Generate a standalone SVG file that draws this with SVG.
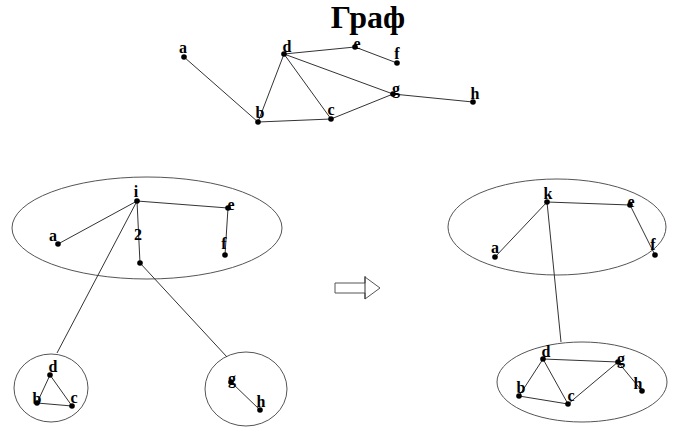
<svg xmlns="http://www.w3.org/2000/svg" width="685" height="428" viewBox="0 0 685 428">
<style>
.e{stroke:#333;stroke-width:1;fill:none}
.o{stroke:#555;stroke-width:1;fill:none}
.n{fill:#000}
.l{font-family:"Liberation Serif",serif;font-weight:bold;font-size:16px;fill:#000;text-anchor:middle}
.t{font-family:"Liberation Serif",serif;font-weight:bold;font-size:32px;fill:#000;text-anchor:middle}
</style>
<rect width="685" height="428" fill="#fff"/>
<text class="t" x="368" y="28">Граф</text>
<g id="containers">
<ellipse class="o" cx="147" cy="228" rx="135" ry="51"/>
<ellipse class="o" cx="51" cy="388" rx="37" ry="34"/>
<ellipse class="o" cx="246" cy="389" rx="41" ry="37"/>
<ellipse class="o" cx="557" cy="227" rx="109" ry="48"/>
<ellipse class="o" cx="582" cy="382" rx="85" ry="40"/>
</g>
<g id="connectors">
<line class="e" x1="184" y1="57" x2="258" y2="122"/>
<line class="e" x1="258" y1="122" x2="284" y2="54"/>
<line class="e" x1="258" y1="122" x2="331" y2="119"/>
<line class="e" x1="284" y1="54" x2="331" y2="119"/>
<line class="e" x1="284" y1="54" x2="393" y2="94"/>
<line class="e" x1="284" y1="54" x2="355" y2="47"/>
<line class="e" x1="355" y1="47" x2="397" y2="63"/>
<line class="e" x1="331" y1="119" x2="393" y2="94"/>
<line class="e" x1="393" y1="94" x2="473" y2="102"/>
<line class="e" x1="137" y1="201" x2="58" y2="244"/>
<line class="e" x1="137" y1="201" x2="228" y2="208"/>
<line class="e" x1="228" y1="208" x2="225" y2="255"/>
<line class="e" x1="137" y1="201" x2="140" y2="263"/>
<line class="e" x1="137" y1="201" x2="57" y2="353"/>
<line class="e" x1="140" y1="263" x2="227" y2="357"/>
<line class="e" x1="50" y1="375" x2="37" y2="403"/>
<line class="e" x1="50" y1="375" x2="72" y2="406"/>
<line class="e" x1="37" y1="403" x2="72" y2="406"/>
<line class="e" x1="231" y1="382" x2="260" y2="410"/>
<line class="e" x1="547" y1="202" x2="495" y2="257"/>
<line class="e" x1="547" y1="202" x2="630" y2="205"/>
<line class="e" x1="630" y1="205" x2="655" y2="255"/>
<line class="e" x1="547" y1="202" x2="561" y2="342"/>
<line class="e" x1="543" y1="359" x2="519" y2="396"/>
<line class="e" x1="543" y1="359" x2="568" y2="404"/>
<line class="e" x1="519" y1="396" x2="568" y2="404"/>
<line class="e" x1="568" y1="404" x2="618" y2="362"/>
<line class="e" x1="543" y1="359" x2="618" y2="362"/>
<line class="e" x1="618" y1="362" x2="642" y2="391"/>
<polygon class="o" points="335,283 365,283 365,277 380,288 365,299 365,293 335,293"/>
<line class="e" x1="365" y1="276" x2="365" y2="299"/>
</g>
<g id="top-a"><circle class="n" cx="184" cy="57" r="2.8"/><text class="l" x="183" y="53">a</text></g>
<g id="top-b"><circle class="n" cx="258" cy="122" r="2.8"/><text class="l" x="260" y="118">b</text></g>
<g id="top-c"><circle class="n" cx="331" cy="119" r="2.8"/><text class="l" x="331" y="115">c</text></g>
<g id="top-d"><circle class="n" cx="284" cy="54" r="2.8"/><text class="l" x="287" y="52">d</text></g>
<g id="top-e"><circle class="n" cx="355" cy="47" r="2.8"/><text class="l" x="357" y="49">e</text></g>
<g id="top-f"><circle class="n" cx="397" cy="63" r="2.8"/><text class="l" x="397" y="59">f</text></g>
<g id="top-g"><circle class="n" cx="393" cy="94" r="2.8"/><text class="l" x="396" y="94">g</text></g>
<g id="top-h"><circle class="n" cx="473" cy="102" r="2.8"/><text class="l" x="475" y="99">h</text></g>
<g id="l-i"><circle class="n" cx="137" cy="201" r="2.8"/><text class="l" x="136" y="197">i</text></g>
<g id="l-a"><circle class="n" cx="58" cy="244" r="2.8"/><text class="l" x="53" y="241">a</text></g>
<g id="l-e"><circle class="n" cx="228" cy="208" r="2.8"/><text class="l" x="231" y="210">e</text></g>
<g id="l-f"><circle class="n" cx="225" cy="255" r="2.8"/><text class="l" x="224" y="249">f</text></g>
<g id="l-2"><circle class="n" cx="140" cy="263" r="2.8"/><text class="l" x="138" y="240">2</text></g>
<g id="c1-d"><circle class="n" cx="50" cy="375" r="2.8"/><text class="l" x="53" y="372">d</text></g>
<g id="c1-b"><circle class="n" cx="37" cy="403" r="2.8"/><text class="l" x="37" y="404">b</text></g>
<g id="c1-c"><circle class="n" cx="72" cy="406" r="2.8"/><text class="l" x="74" y="403">c</text></g>
<g id="c2-g"><circle class="n" cx="231" cy="382" r="2.8"/><text class="l" x="232" y="384">g</text></g>
<g id="c2-h"><circle class="n" cx="260" cy="410" r="2.8"/><text class="l" x="261" y="407">h</text></g>
<g id="r-k"><circle class="n" cx="547" cy="202" r="2.8"/><text class="l" x="548" y="199">k</text></g>
<g id="r-e"><circle class="n" cx="630" cy="205" r="2.8"/><text class="l" x="631" y="207">e</text></g>
<g id="r-a"><circle class="n" cx="495" cy="257" r="2.8"/><text class="l" x="495" y="253">a</text></g>
<g id="r-f"><circle class="n" cx="655" cy="255" r="2.8"/><text class="l" x="653" y="250">f</text></g>
<g id="r-d"><circle class="n" cx="543" cy="359" r="2.8"/><text class="l" x="546" y="357">d</text></g>
<g id="r-g"><circle class="n" cx="618" cy="362" r="2.8"/><text class="l" x="621" y="364">g</text></g>
<g id="r-b"><circle class="n" cx="519" cy="396" r="2.8"/><text class="l" x="521" y="393">b</text></g>
<g id="r-c"><circle class="n" cx="568" cy="404" r="2.8"/><text class="l" x="571" y="401">c</text></g>
<g id="r-h"><circle class="n" cx="642" cy="391" r="2.8"/><text class="l" x="638" y="389">h</text></g>
</svg>
